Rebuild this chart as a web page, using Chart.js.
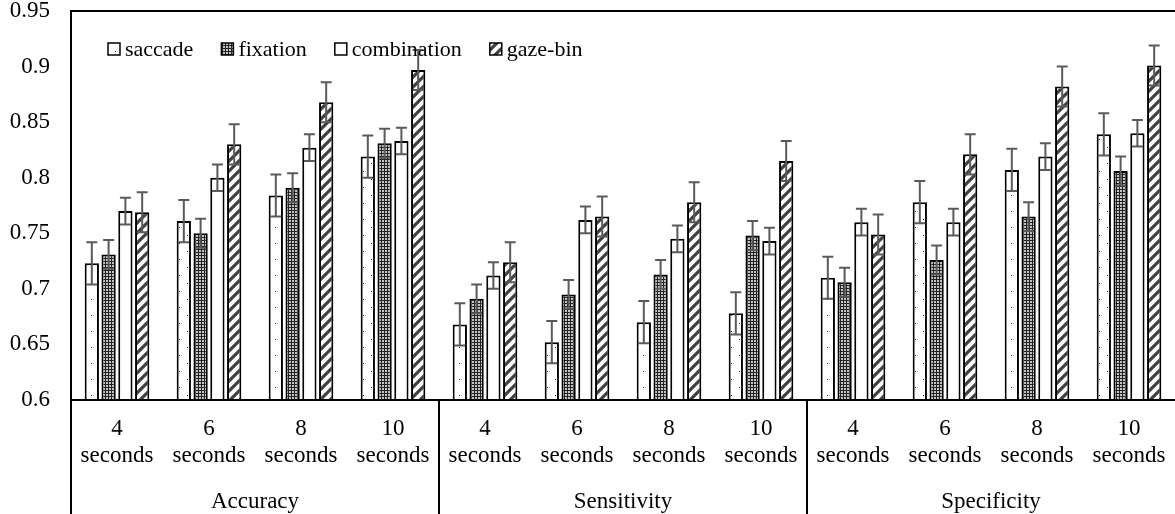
<!DOCTYPE html>
<html>
<head>
<meta charset="utf-8">
<script src="https://cdn.jsdelivr.net/npm/chart.js@4.4.1/dist/chart.umd.min.js"></script>
<style>
  html, body { margin: 0; padding: 0; background: #fff; }
</style>
</head>
<body>
<canvas id="canvas" width="1175" height="514"></canvas>
<script>
// data
var windows = ['4', '6', '8', '10'];
var metrics = ['Accuracy', 'Sensitivity', 'Specificity'];
var seriesNames = ['saccade', 'fixation', 'combination', 'gaze-bin'];

// order: Accuracy 4/6/8/10, Sensitivity 4/6/8/10, Specificity 4/6/8/10
var saccade     = [0.723, 0.761, 0.784, 0.819, 0.668, 0.652, 0.670, 0.678, 0.710, 0.778, 0.807, 0.839];
var fixation    = [0.731, 0.750, 0.791, 0.831, 0.691, 0.695, 0.713, 0.748, 0.706, 0.726, 0.765, 0.806];
var combination = [0.770, 0.800, 0.827, 0.833, 0.712, 0.762, 0.745, 0.743, 0.760, 0.760, 0.819, 0.840];
var gazeBin     = [0.769, 0.830, 0.868, 0.897, 0.724, 0.765, 0.778, 0.815, 0.749, 0.821, 0.882, 0.901];

var errSaccade     = [0.019, 0.019, 0.019, 0.019, 0.019, 0.019, 0.019, 0.019, 0.019, 0.019, 0.019, 0.019];
var errFixation    = [0.013, 0.013, 0.013, 0.013, 0.013, 0.013, 0.013, 0.013, 0.013, 0.013, 0.013, 0.013];
var errCombination = [0.012, 0.012, 0.012, 0.012, 0.012, 0.012, 0.012, 0.012, 0.012, 0.012, 0.012, 0.012];
var errGazeBin     = [0.018, 0.018, 0.018, 0.018, 0.018, 0.018, 0.018, 0.018, 0.018, 0.018, 0.018, 0.018];

var yTicksMin = 0.6, yTicksMax = 0.95, yStep = 0.05;

var FONT = '"Liberation Serif", "Times New Roman", serif';

// x labels: "4 / seconds" under each bar group
var labels = [];
metrics.forEach(function(){
  windows.forEach(function(w){ labels.push([w, 'seconds']); });
});

// fill patterns
function makeTile(size, draw){
  var c = document.createElement('canvas');
  c.width = size; c.height = size;
  var g = c.getContext('2d');
  draw(g, size);
  return document.getElementById('canvas').getContext('2d').createPattern(c, 'repeat');
}

var patDots = makeTile(16, function(g, s){
  g.fillStyle = '#fff'; g.fillRect(0, 0, s, s);
  g.fillStyle = '#222';
  g.fillRect(3, 3, 1, 1);
  g.fillRect(11, 11, 1, 1);
});

var patGrid = makeTile(3, function(g, s){
  g.fillStyle = '#222'; g.fillRect(0, 0, s, s);
  g.fillStyle = '#c4c4c4'; g.fillRect(1, 1, 2, 2);
});

var patStripe = makeTile(10, function(g, s){
  g.fillStyle = '#fff'; g.fillRect(0, 0, s, s);
  g.strokeStyle = '#404040'; g.lineWidth = 3.2;
  g.beginPath();
  g.moveTo(-5, 5); g.lineTo(5, -5);
  g.moveTo(0, 10); g.lineTo(10, 0);
  g.moveTo(5, 15); g.lineTo(15, 5);
  g.stroke();
});

function serie(name, data, errs, fill){
  return {
    label: name,
    data: data,
    errors: errs,
    backgroundColor: fill,
    borderColor: '#000',
    borderWidth: 2,
    categoryPercentage: 0.73,
    barPercentage: 0.85
  };
}

// error bars (symmetric), drawn on top of the bars
var errorBars = {
  id: 'errorBars',
  afterDatasetsDraw: function(chart){
    var ctx = chart.ctx;
    var yScale = chart.scales.y;
    ctx.save();
    ctx.strokeStyle = '#5a5a5a';
    ctx.lineWidth = 2;
    chart.data.datasets.forEach(function(ds, i){
      var meta = chart.getDatasetMeta(i);
      meta.data.forEach(function(bar, j){
        var v = ds.data[j], e = ds.errors[j];
        var yt = yScale.getPixelForValue(v + e);
        var yb = yScale.getPixelForValue(v - e);
        var x = bar.x;
        ctx.beginPath();
        ctx.moveTo(x, yt); ctx.lineTo(x, yb);
        ctx.moveTo(x - 5.5, yt); ctx.lineTo(x + 5.5, yt);
        ctx.moveTo(x - 5.5, yb); ctx.lineTo(x + 5.5, yb);
        ctx.stroke();
      });
    });
    ctx.restore();
  }
};

// frame, axis line and group separators
var frame = {
  id: 'frame',
  afterDraw: function(chart){
    var ctx = chart.ctx, a = chart.chartArea, xs = chart.scales.x;
    var H = chart.height;
    ctx.save();
    ctx.strokeStyle = '#000';
    ctx.lineWidth = 2;
    ctx.beginPath();
    ctx.moveTo(a.left, H); ctx.lineTo(a.left, a.top); ctx.lineTo(a.right, a.top);
    ctx.moveTo(a.left, a.bottom); ctx.lineTo(a.right, a.bottom);
    for (var k = 1; k < metrics.length; k++){
      var idx = k * windows.length;
      var xx = (xs.getPixelForValue(idx - 1) + xs.getPixelForValue(idx)) / 2;
      ctx.moveTo(xx, a.bottom); ctx.lineTo(xx, H);
    }
    ctx.stroke();
    ctx.restore();
  }
};

// legend inside the plot, top left
var legendBox = {
  id: 'legendBox',
  afterDraw: function(chart){
    var ctx = chart.ctx, a = chart.chartArea;
    var x = a.left + 37, y = a.top + 38;
    ctx.save();
    ctx.font = '22px ' + FONT;
    ctx.textBaseline = 'middle';
    ctx.textAlign = 'left';
    chart.data.datasets.forEach(function(ds){
      ctx.fillStyle = ds.backgroundColor;
      ctx.fillRect(x, y - 6, 12, 12);
      ctx.strokeStyle = '#000';
      ctx.lineWidth = 1.5;
      ctx.strokeRect(x, y - 6, 12, 12);
      ctx.fillStyle = '#000';
      ctx.fillText(ds.label, x + 17, y + 1);
      x += 17 + ctx.measureText(ds.label).width + 28;
    });
    ctx.restore();
  }
};

var ctx = document.getElementById('canvas').getContext('2d');
window.myBar = new Chart(ctx, {
  type: 'bar',
  data: {
    labels: labels,
    datasets: [
      serie(seriesNames[0], saccade, errSaccade, patDots),
      serie(seriesNames[1], fixation, errFixation, patGrid),
      serie(seriesNames[2], combination, errCombination, '#fff'),
      serie(seriesNames[3], gazeBin, errGazeBin, patStripe)
    ]
  },
  options: {
    responsive: false,
    animation: false,
    layout: { padding: 0 },
    plugins: {
      legend: { display: false },
      tooltip: { enabled: false }
    },
    scales: {
      x: {
        offset: true,
        grid: { display: false, drawTicks: false },
        border: { display: false },
        ticks: {
          color: '#000',
          font: { family: FONT, size: 23, lineHeight: 1.2 },
          padding: 15,
          maxRotation: 0,
          autoSkip: false
        },
        afterFit: function(s){ s.height = 78; s.paddingLeft = 0; s.paddingRight = 0; }
      },
      x2: {
        type: 'category',
        labels: metrics,
        position: 'bottom',
        offset: true,
        grid: { display: false, drawTicks: false },
        border: { display: false },
        ticks: {
          color: '#000',
          font: { family: FONT, size: 23, lineHeight: 1.1 },
          padding: 11,
          maxRotation: 0,
          autoSkip: false
        },
        afterFit: function(s){ s.height = 36; s.paddingLeft = 0; s.paddingRight = 0; }
      },
      y: {
        min: yTicksMin,
        max: yTicksMax,
        grid: { display: false, drawTicks: false },
        border: { display: false },
        ticks: {
          stepSize: yStep,
          color: '#000',
          font: { family: FONT, size: 23, lineHeight: 0.96 },
          padding: 21,
          callback: function(v){ return String(+v.toFixed(2)); }
        },
        afterFit: function(s){ s.width = 71; s.paddingTop = 11; s.paddingBottom = 0; }
      }
    }
  },
  plugins: [errorBars, frame, legendBox]
});
</script>
</body>
</html>
